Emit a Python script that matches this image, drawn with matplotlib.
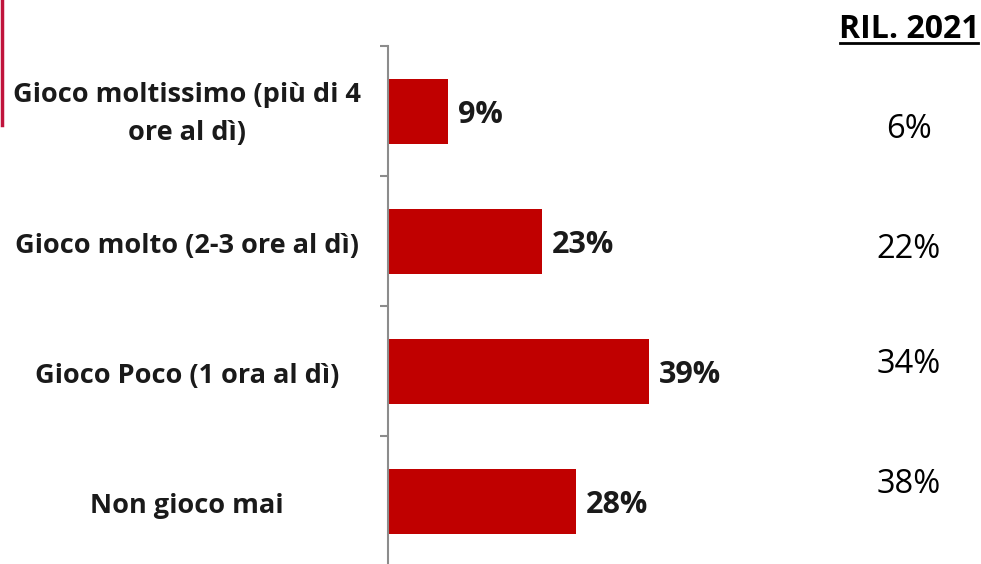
import matplotlib
matplotlib.use("Agg")
import matplotlib.pyplot as plt

categories = ["Gioco moltissimo (più di 4\nore al dì)", "Gioco molto (2-3 ore al dì)",
              "Gioco Poco (1 ora al dì)", "Non gioco mai"]
values = [9, 23, 39, 28]
ril_title = "RIL. 2021"
ril_values = ["6%", "22%", "34%", "38%"]
ril_baseline = [138, 258, 373, 493]  # pixel rows from top

W, H = 981, 564
plt.rcParams['font.family'] = ['Open Sans', 'DejaVu Sans']
fig = plt.figure(figsize=(W / 100, H / 100), dpi=100)

ax_left, ax_top, ax_bottom = 388, 46, 566
ax_right = 388 + 6.7 * 60
ax = fig.add_axes([ax_left / W, 1 - ax_bottom / H, (ax_right - ax_left) / W, (ax_bottom - ax_top) / H])
ax.set_xlim(0, 60)
ax.set_ylim(len(values) - 0.5, -0.5)
ypos = list(range(len(values)))
ax.barh(ypos, values, height=0.5, color="#C00000")
for y, v in zip(ypos, values):
    ax.annotate(f"{v}%", xy=(v, y), xytext=(10, -12), textcoords="offset pixels",
                va="baseline", ha="left", fontsize=22, fontweight="bold", color="#1a1a1a")

for s in ["top", "right", "bottom"]:
    ax.spines[s].set_visible(False)
ax.spines["left"].set_color("#8c8c8c")
ax.spines["left"].set_linewidth(1.5)
ax.set_xticks([])
ax.set_yticks([-0.5, 0.5, 1.5, 2.5])
ax.set_yticklabels([])
ax.tick_params(axis="y", length=6, color="#8c8c8c", width=1.5)

def px_y(py):
    return 1 - py / H

cat_kw = dict(ha="center", va="baseline", fontsize=19.5, fontweight="bold", color="#1a1a1a")
for y, c in zip(ypos, categories):
    center = 111 + 130 * y
    lines = c.split("\n")
    if len(lines) == 1:
        fig.text(187 / W, px_y(center + 12), c, **cat_kw)
    else:
        fig.text(187 / W, px_y(102), lines[0], **cat_kw)
        fig.text(187 / W, px_y(140), lines[1], **cat_kw)

fig.text(909 / W, px_y(38), ril_title, ha="center", va="baseline", fontsize=23,
         fontweight="bold", color="black")
fig.add_artist(plt.Line2D([840 / W, 978 / W], [px_y(43), px_y(43)], color="black", lw=2))
for by, rv in zip(ril_baseline, ril_values):
    fig.text(909 / W, px_y(by), rv, ha="center", va="baseline", fontsize=23.5, color="black")

fig.add_artist(plt.Line2D([2 / W, 2 / W], [px_y(125), 1], color="#C0143C", lw=2.5))

fig.savefig("out.png", dpi=100)
